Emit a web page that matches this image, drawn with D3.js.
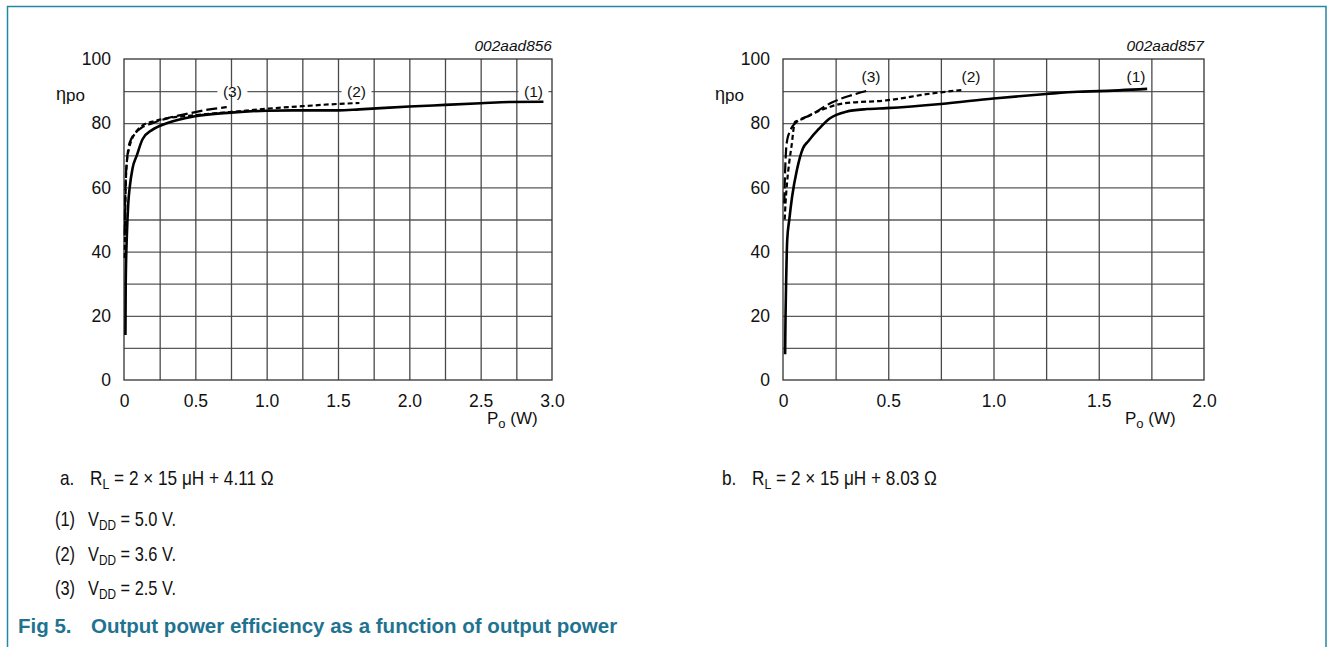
<!DOCTYPE html>
<html>
<head>
<meta charset="utf-8">
<script src="https://cdn.jsdelivr.net/npm/d3@7"></script>
<style>
  body { margin: 0; background: #fff; }
  svg { display: block; font-family: "Liberation Sans", Arial, sans-serif; }
</style>
</head>
<body>
<svg id="fig" width="1329" height="647"></svg>
<script>
// data
const yTicks = [0, 20, 40, 60, 80, 100]
const yGrid = [10, 20, 30, 40, 50, 60, 70, 80, 90]
const xTicksA = [0, 0.5, 1.0, 1.5, 2.0, 2.5, 3.0]
const xGridA = [0.25, 0.5, 0.75, 1.0, 1.25, 1.5, 1.75, 2.0, 2.25, 2.5, 2.75]
const xTicksB = [0, 0.5, 1.0, 1.5, 2.0]
const xGridB = [0.25, 0.5, 0.75, 1.0, 1.25, 1.5, 1.75]

// chart a : RL = 2 x 15 uH + 4.11 ohm
const pA1 = [0.01, 0.012, 0.02, 0.03, 0.04, 0.06, 0.09, 0.13, 0.2, 0.3, 0.5, 0.75, 1.0, 1.25, 1.5, 1.65, 2.0, 2.25, 2.5, 2.7, 2.94]
const eA1 = [14, 30, 45, 55, 60, 66, 70, 75, 78, 80, 82.2, 83.3, 83.9, 84, 84, 84.3, 85.2, 85.7, 86.2, 86.6, 86.7]
const pA2 = [0.005, 0.008, 0.012, 0.02, 0.035, 0.055, 0.08, 0.12, 0.2, 0.3, 0.5, 0.75, 1.0, 1.25, 1.5, 1.65]
const eA2 = [38, 50, 60, 68, 72, 75, 77, 79, 80.5, 81.5, 82.5, 83.5, 84.5, 85.3, 86, 86.3]
const pA3 = [0.005, 0.008, 0.012, 0.02, 0.03, 0.05, 0.08, 0.12, 0.2, 0.3, 0.45, 0.6, 0.72]
const eA3 = [45, 55, 62, 68, 72, 75, 77, 78.5, 80, 81.5, 83, 84.3, 85]

// chart b : RL = 2 x 15 uH + 8.03 ohm
const pB1 = [0.01, 0.012, 0.015, 0.02, 0.03, 0.043, 0.066, 0.095, 0.12, 0.17, 0.22, 0.3, 0.4, 0.49, 0.75, 1.0, 1.25, 1.4, 1.5, 1.73]
const eB1 = [8, 20, 31, 43.6, 50, 57, 65.4, 72.2, 74.4, 78.2, 81.4, 83.6, 84.4, 84.7, 86, 87.7, 89.1, 89.8, 90, 90.7]
const pB2 = [0.008, 0.012, 0.02, 0.03, 0.04, 0.057, 0.08, 0.16, 0.29, 0.49, 0.71, 0.86]
const eB2 = [50, 55, 62, 68, 72.6, 80.4, 81, 83.5, 86.2, 87.1, 89.3, 90.4]
const pB3 = [0.006, 0.01, 0.015, 0.02, 0.03, 0.045, 0.065, 0.13, 0.24, 0.33, 0.41]
const eB3 = [55, 65, 72, 74.8, 77, 79, 80.4, 82.5, 86.7, 88.8, 90.3]

const curveNames = ["(1)", "(2)", "(3)"]
const labelPA = [2.87, 1.63, 0.76]
const labelPB = [1.677, 0.893, 0.418]

const svg = d3.select("#fig")

// outer frame
svg.append("path")
    .attr("d", "M7.5,660 L7.5,6.5 L1326,6.5 L1326,660")
    .style("fill", "none")
    .style("stroke", "#2387a6")
    .style("stroke-width", 1.5)

function DrawChart(cfg) {
    let g = svg.append("g")
    let x = d3.scaleLinear().domain([0, cfg.xMax]).range([cfg.left, cfg.right])
    let y = d3.scaleLinear().domain([0, 100]).range([380, 59])
    let w = cfg.right - cfg.left
    let h = 380 - 59

    // grid
    g.append("g")
        .attr("transform", "translate(" + cfg.left + ",0)")
        .call(d3.axisLeft(y).tickValues(yGrid).tickSize(-w).tickFormat(""))
        .call(s => s.select(".domain").remove())
        .selectAll("line").style("stroke", "#5a5a5a").style("stroke-width", 1.3)
    g.append("g")
        .attr("transform", "translate(0,380)")
        .call(d3.axisBottom(x).tickValues(cfg.xGrid).tickSize(-h).tickFormat(""))
        .call(s => s.select(".domain").remove())
        .selectAll("line").style("stroke", "#4a4a4a").style("stroke-width", 1.3)

    // plot frame
    g.append("rect")
        .attr("x", cfg.left).attr("y", 59)
        .attr("width", w).attr("height", h)
        .style("fill", "none")
        .style("stroke", "#333")
        .style("stroke-width", 1.3)

    // tick labels
    g.append("g")
        .attr("transform", "translate(" + cfg.left + ",0)")
        .call(d3.axisLeft(y).tickValues(yTicks).tickSize(0).tickPadding(13))
        .call(s => s.select(".domain").remove())
        .selectAll("text")
        .style("font-size", "17.5px").style("fill", "#111")
        .style("font-family", '"Liberation Sans", Arial, sans-serif')
    g.append("g")
        .attr("transform", "translate(0,380)")
        .call(d3.axisBottom(x).tickValues(cfg.xTicks).tickSize(0).tickPadding(15)
            .tickFormat(d => d === 0 ? "0" : d3.format(".1f")(d)))
        .call(s => s.select(".domain").remove())
        .selectAll("text")
        .style("font-size", "17.5px").style("fill", "#111")
        .style("font-family", '"Liberation Sans", Arial, sans-serif')

    // axis titles
    let yt = g.append("text")
        .attr("x", cfg.left - 68).attr("y", 100)
        .style("font-size", "18px").style("fill", "#111")
    yt.append("tspan").text("η")
    yt.append("tspan").attr("dy", 1).style("font-size", "17px").text("po")

    let xt = g.append("text")
        .attr("x", cfg.xTitle).attr("y", 424)
        .style("font-size", "17px").style("fill", "#111")
    xt.append("tspan").text("P")
    xt.append("tspan").attr("dy", 4).style("font-size", "13px").text("o")
    xt.append("tspan").attr("dy", -4).text(" (W)")

    g.append("text")
        .attr("x", cfg.right).attr("y", 51)
        .attr("text-anchor", "end")
        .style("font-size", "15.5px").style("font-style", "italic").style("fill", "#111")
        .text(cfg.code)

    // curves
    let line = d3.line()
        .x(d => x(d[0]))
        .y(d => y(d[1]))
        .curve(d3.curveMonotoneX)
    let dashes = [null, "5,3", "11,4"]
    let widths = [2.6, 2.2, 2.2]
    cfg.series.forEach(function (s, i) {
        g.append("path")
            .datum(d3.zip(s[0], s[1]))
            .attr("d", line)
            .style("fill", "none")
            .style("stroke", "#000")
            .style("stroke-width", widths[i])
            .style("stroke-dasharray", dashes[i])
    })

    // curve labels
    curveNames.forEach(function (n, i) {
        let lx = x(cfg.labelP[i])
        let ly = y(cfg.labelE)
        if (cfg.gap) {
            g.append("rect")
                .attr("x", lx - 15).attr("y", ly - 3)
                .attr("width", 30).attr("height", 6)
                .style("fill", "#fff")
        }
        g.append("text")
            .attr("x", lx).attr("y", ly + 5.5)
            .attr("text-anchor", "middle")
            .style("font-size", "15.5px").style("fill", "#111")
            .text(n)
    })
}

DrawChart({
    left: 124, right: 552, xMax: 3.0, xTicks: xTicksA, xGrid: xGridA,
    xTitle: 487, code: "002aad856",
    series: [[pA1, eA1], [pA2, eA2], [pA3, eA3]],
    labelP: labelPA, labelE: 90, gap: true
})
DrawChart({
    left: 783, right: 1204, xMax: 2.0, xTicks: xTicksB, xGrid: xGridB,
    xTitle: 1125, code: "002aad857",
    series: [[pB1, eB1], [pB2, eB2], [pB3, eB3]],
    labelP: labelPB, labelE: 94.6, gap: false
})

// captions (narrow type, squeezed horizontally)
function Caption(x, y, parts, size, sx) {
    let t = svg.append("g")
        .attr("transform", "translate(" + x + "," + y + ") scale(" + sx + ",1)")
        .append("text")
        .style("font-size", size + "px")
        .style("fill", "#111")
    parts.forEach(function (p) {
        let ts = t.append("tspan").text(p.t)
        if (p.sub) ts.attr("dy", 4).style("font-size", (size * 0.72) + "px")
        if (p.up) ts.attr("dy", -4)
    })
    return t
}

Caption(60, 485, [{ t: "a." }], 20, 0.86)
Caption(90, 485, [{ t: "R" }, { t: "L", sub: true }, { t: " = 2 × 15 μH + 4.11 Ω", up: true }], 20, 0.86)
Caption(722, 485, [{ t: "b." }], 20, 0.86)
Caption(752, 485, [{ t: "R" }, { t: "L", sub: true }, { t: " = 2 × 15 μH + 8.03 Ω", up: true }], 20, 0.86)

const vddValues = ["5.0", "3.6", "2.5"]
const vddRows = [526, 561, 595]
vddValues.forEach(function (v, i) {
    Caption(55, vddRows[i], [{ t: curveNames[i] }], 20, 0.82)
    Caption(88, vddRows[i], [{ t: "V" }, { t: "DD", sub: true }, { t: " = " + v + " V.", up: true }], 20, 0.82)
})

svg.append("text")
    .attr("x", 18).attr("y", 633)
    .style("font-size", "20.5px").style("font-weight", "bold").style("fill", "#1f7391")
    .text("Fig 5.")
svg.append("text")
    .attr("x", 91).attr("y", 633)
    .style("font-size", "20.5px").style("font-weight", "bold").style("fill", "#1f7391")
    .text("Output power efficiency as a function of output power")
</script>
</body>
</html>
